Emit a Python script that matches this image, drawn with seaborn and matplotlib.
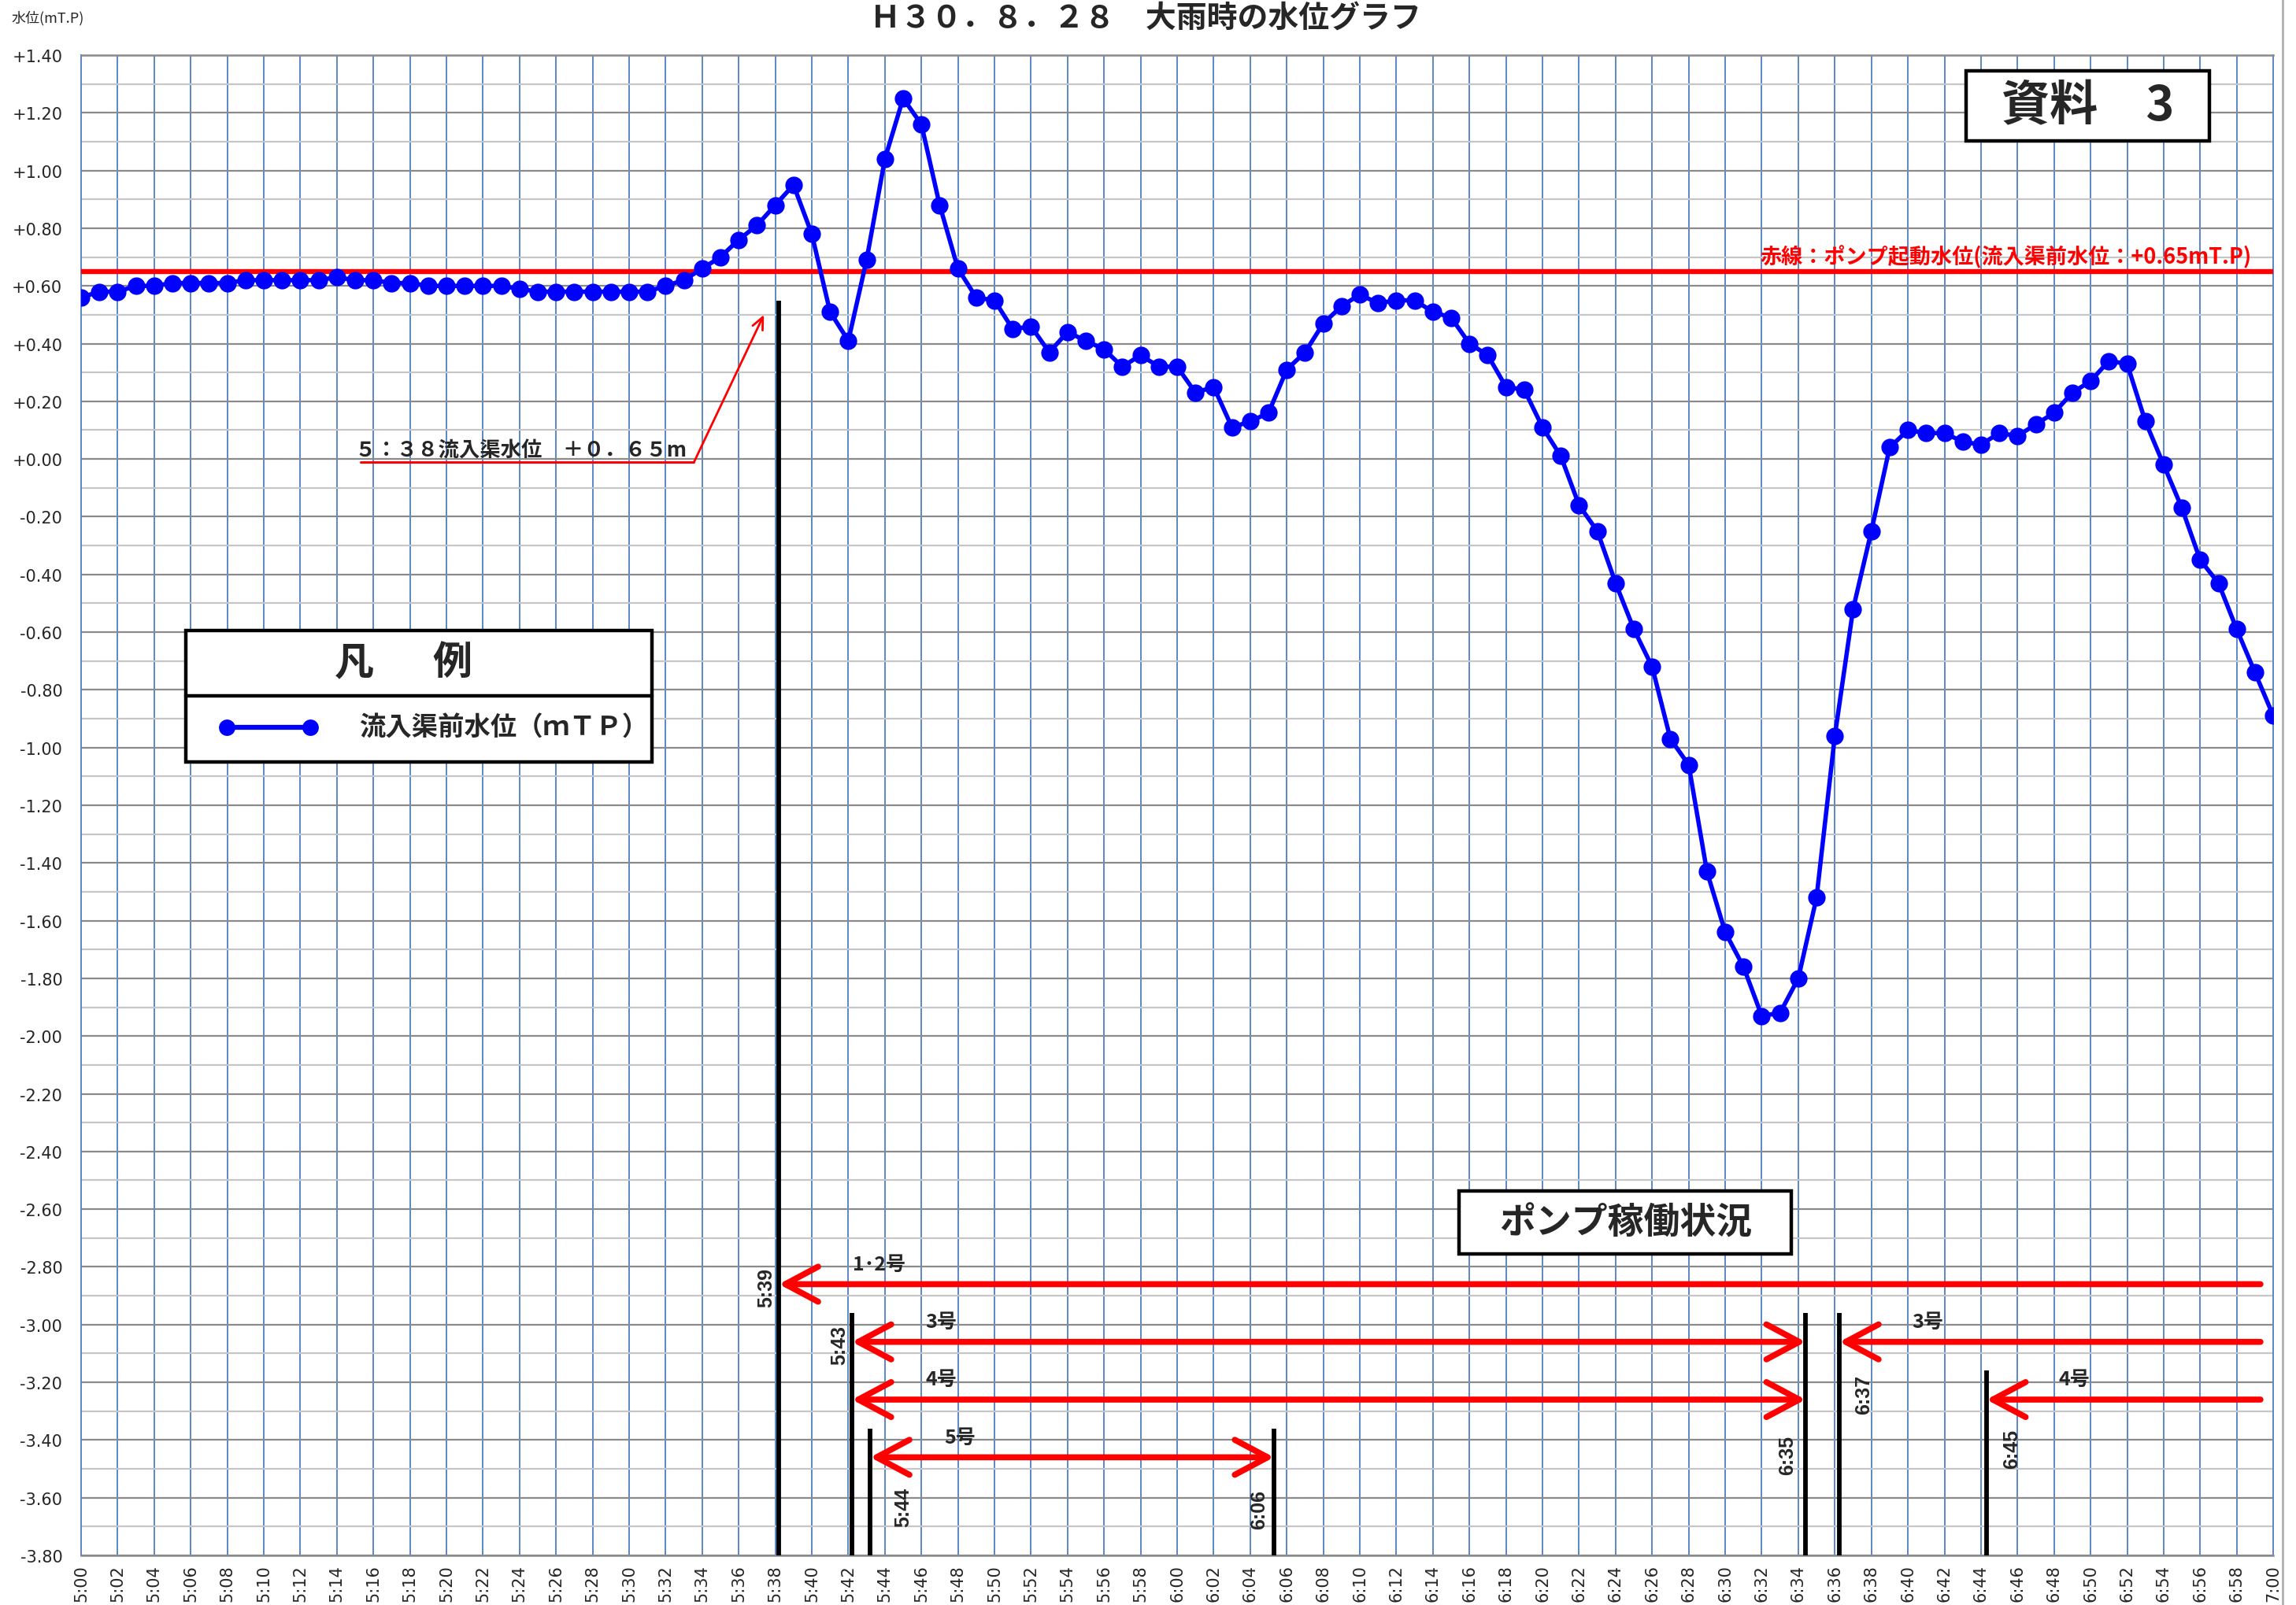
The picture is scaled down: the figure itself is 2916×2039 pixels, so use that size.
import numpy as np
import pandas as pd
import matplotlib
matplotlib.use('Agg')
import matplotlib.pyplot as plt
import seaborn as sns
from matplotlib.patches import Rectangle, FancyArrowPatch
from matplotlib.lines import Line2D
from matplotlib.ticker import MultipleLocator

# one reading per minute, minutes after 5:00
minutes = list(range(0, 121))
level = [0.56, 0.58, 0.58, 0.60, 0.60, 0.61, 0.61, 0.61, 0.61, 0.62,
         0.62, 0.62, 0.62, 0.62, 0.63, 0.62, 0.62, 0.61, 0.61, 0.60,
         0.60, 0.60, 0.60, 0.60, 0.59, 0.58, 0.58, 0.58, 0.58, 0.58,
         0.58, 0.58, 0.60, 0.62, 0.66, 0.70, 0.76, 0.81, 0.88,
         0.95, 0.78, 0.51, 0.41, 0.69, 1.04, 1.25, 1.16, 0.88, 0.66,
         0.56, 0.55, 0.45, 0.46, 0.37, 0.44, 0.41, 0.38, 0.32, 0.36, 0.32,
         0.32, 0.23, 0.25, 0.11, 0.13, 0.16, 0.31, 0.37, 0.47, 0.53,
         0.57, 0.54, 0.55, 0.55, 0.51, 0.49, 0.40, 0.36, 0.25, 0.24,
         0.11, 0.01, -0.16, -0.25, -0.43, -0.59, -0.72, -0.97, -1.06, -1.43,
         -1.64, -1.76, -1.93, -1.92, -1.80, -1.52, -0.96, -0.52, -0.25, 0.04,
         0.10, 0.09, 0.09, 0.06, 0.05, 0.09, 0.08, 0.12, 0.16, 0.23,
         0.27, 0.34, 0.33, 0.13, -0.02, -0.17, -0.35, -0.43, -0.59, -0.74, -0.89]

time_ticks = list(range(0, 121, 2))
time_labels = ["%d:%02d" % (5 + m // 60, m % 60) for m in time_ticks]
y_ticks = [round(-3.8 + 0.2 * i, 2) for i in range(27)]
y_labels = [("+%.2f" % v) if v >= -1e-9 else ("%.2f" % v) for v in y_ticks]

start_level = 0.65  # pump start level

# pump events: vertical marker lines
event_x = [38.2, 42.2, 43.2, 65.3, 94.4, 96.25, 104.3]
event_top = [0.55, -2.96, -3.36, -3.36, -2.96, -2.96, -3.16]
event_text = ['5:39', '5:43', '5:44', '6:06', '6:35', '6:37', '6:45']
event_text_x = [37.5, 41.5, 45.0, 64.5, 93.4, 97.6, 105.7]
event_text_y = [-2.87, -3.07, -3.63, -3.64, -3.45, -3.24, -3.43]

# pump running periods (red arrows)
run_start = [38.2, 42.2, 42.2, 96.25, 104.3, 43.2]
run_end = [119.3, 94.4, 94.4, 119.3, 119.3, 65.3]
run_y = [-2.86, -3.06, -3.26, -3.06, -3.26, -3.46]
run_style = ['<-', '<->', '<->', '<-', '<-', '<->']
run_label = ['1･2号', '3号', '4号', '3号', '4号', '5号']
run_label_x = [43.7, 47.1, 47.1, 101.1, 109.1, 48.1]
run_label_y = [-2.79, -2.99, -3.19, -2.99, -3.19, -3.39]

df = pd.DataFrame({'minute': minutes, 'level': level})

sns.set_style('white')
plt.rcParams['font.family'] = ['Noto Sans CJK JP', 'DejaVu Sans']

fig = plt.figure(figsize=(29.16, 20.40), dpi=100)
ax = fig.add_axes([0.0353, 0.0309, 0.9548, 0.9343])

ax.axhline(start_level, color='#ff0000', lw=4.6, zorder=3)
sns.lineplot(data=df, x='minute', y='level', ax=ax, color='#0000ff', lw=4,
             marker='o', markersize=16, markeredgewidth=0, zorder=4)

ax.set_xlim(0, 120)
ax.set_ylim(-3.8, 1.4)
ax.set_xticks(time_ticks)
ax.set_xticklabels(time_labels, rotation=90, fontsize=15, family=['DejaVu Sans'])
ax.set_yticks(y_ticks)
ax.set_yticklabels(y_labels, fontsize=15, family=['DejaVu Sans'])
ax.yaxis.set_minor_locator(MultipleLocator(0.1))
ax.tick_params(which='both', length=0)
ax.tick_params(axis='y', pad=17)
ax.tick_params(axis='x', pad=8)
ax.set_xlabel('')
ax.set_ylabel('')
ax.set_axisbelow(True)
ax.grid(which='major', axis='y', color='#8a8a8a', lw=1.6)
ax.grid(which='minor', axis='y', color='#c6c6c6', lw=1.6)
ax.grid(which='major', axis='x', color='#5b87c7', lw=1.4)
for s in ['top', 'bottom']:
    ax.spines[s].set_color('#8a8a8a')
    ax.spines[s].set_linewidth(1.8)
for s in ['left', 'right']:
    ax.spines[s].set_color('#5b87c7')
    ax.spines[s].set_linewidth(1.4)

# red start-level label
ax.text(118.8, 0.662, '赤線：ポンプ起動水位(流入渠前水位：+0.65mT.P)', color='#ff0000',
        fontsize=19.5, fontweight='bold', ha='right', va='bottom', zorder=6)

# 5:38 annotation
ax.text(15.0, -0.005, '５：３８流入渠水位　＋０．６５m', fontsize=19, fontweight='bold',
        ha='left', va='bottom', zorder=6)
ax.plot([15.3, 33.55], [-0.011, -0.011], color='#ff0000', lw=2.2, zorder=6)
ax.add_patch(FancyArrowPatch((33.55, -0.011), (37.38, 0.50), arrowstyle='->,head_length=11,head_width=5',
                             mutation_scale=1, color='#ff0000', lw=2, shrinkA=0, shrinkB=0, zorder=6))

# pump event lines and labels
ax.vlines(event_x, -3.8, event_top, color='black', lw=4.2, zorder=5)
for tx, ty, t in zip(event_text_x, event_text_y, event_text):
    ax.text(tx, ty, t, rotation=90, ha='center', va='center', fontsize=18,
            fontweight='bold', family=['Liberation Sans', 'DejaVu Sans'], zorder=6)

for x0, x1, y, st in zip(run_start, run_end, run_y, run_style):
    ax.add_patch(FancyArrowPatch((x0, y), (x1, y), arrowstyle=st + ',head_length=30,head_width=16',
                                 mutation_scale=1, color='#ff0000', lw=5.5, shrinkA=0, shrinkB=0,
                                 capstyle='round', joinstyle='round', zorder=6))
for tx, ty, t in zip(run_label_x, run_label_y, run_label):
    ax.text(tx, ty, t, ha='center', va='center', fontsize=18, fontweight='bold', zorder=6)

# boxes (axes fraction)
def box(x0, y0, x1, y1):
    ax.add_patch(Rectangle((x0, y0), x1 - x0, y1 - y0, transform=ax.transAxes,
                           fc='white', ec='black', lw=3.2, zorder=7, clip_on=False))

box(0.860, 0.943, 0.971, 0.9895)
ax.text(0.9155, 0.966, '資料　3', transform=ax.transAxes, ha='center', va='center',
        fontsize=44, fontweight='bold', zorder=8)

box(0.6287, 0.2009, 0.7803, 0.2429)
ax.text(0.7045, 0.2214, 'ポンプ稼働状況', transform=ax.transAxes, ha='center', va='center',
        fontsize=33, fontweight='bold', zorder=8)

# legend
box(0.0478, 0.5289, 0.2603, 0.6165)
ax.plot([0.0478, 0.2603], [0.573, 0.573], transform=ax.transAxes, color='black', lw=3.2, zorder=8)
ax.text(0.1246, 0.595, '凡', transform=ax.transAxes, ha='center', va='center',
        fontsize=36, fontweight='bold', zorder=8)
ax.text(0.1695, 0.595, '例', transform=ax.transAxes, ha='center', va='center',
        fontsize=36, fontweight='bold', zorder=8)
ax.plot([0.0664, 0.1045], [0.552, 0.552], transform=ax.transAxes, color='#0000ff', lw=4.5,
        marker='o', markersize=15, markeredgewidth=0, zorder=8)
ax.text(0.127, 0.552, '流入渠前水位（ｍＴＰ）', transform=ax.transAxes, ha='left', va='center',
        fontsize=24, fontweight='bold', zorder=8)

# title and unit
fig.text(0.499, 0.988, 'Ｈ３０．８．２８　大雨時の水位グラフ', ha='center', va='center',
         fontsize=28, fontweight='bold')
fig.text(0.005, 0.9887, '水位(mT.P)', ha='left', va='center', fontsize=13)

fig.add_artist(Line2D([0.9942, 0.9942], [0, 1], transform=fig.transFigure, color='#b0b0b0', lw=2))

fig.savefig('out.png', dpi=100)
